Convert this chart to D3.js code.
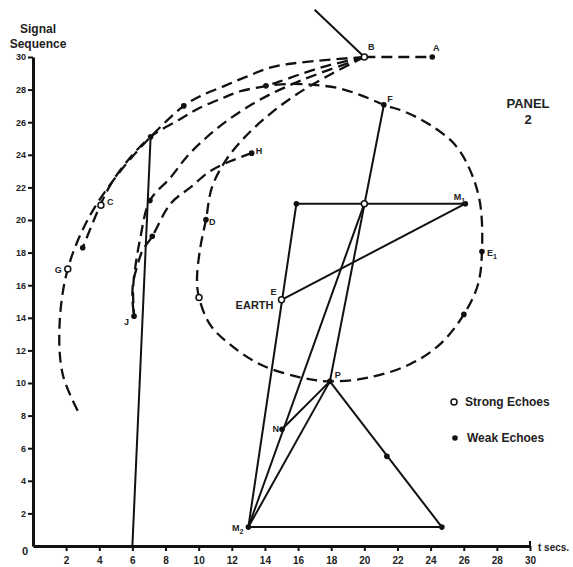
<html>
<head>
<script src="https://d3js.org/d3.v7.min.js"></script>
<style>
  body { margin: 0; background: #fff; }
  text { font-family: "Liberation Sans", Arial, sans-serif; font-weight: bold; fill: #222; }
</style>
</head>
<body>
<svg id="chart" width="573" height="567"></svg>
<script>
// ticks
const xTicks = [2, 4, 6, 8, 10, 12, 14, 16, 18, 20, 22, 24, 26, 28, 30];
const yTicks = [2, 4, 6, 8, 10, 12, 14, 16, 18, 20, 22, 24, 26, 28, 30];

// dashed tracks (t secs, signal sequence)
const trackBA = [[20, 30], [24.1, 30]];
const trackG = [[20, 30], [16.5, 29.7], [14.5, 29.4], [12.9, 28.8], [11.5, 28.2], [10.1, 27.6], [9.1, 27.0],
  [7.1, 25.1], [5.2, 22.9], [3.4, 20.2], [2.1, 17.0], [1.6, 13.5], [1.8, 10.5], [2.7, 8.3]];
const trackC = [[20, 30], [17.9, 29.5], [16.3, 29.0], [14.9, 28.5], [14.06, 28.23], [12.5, 27.9], [11.5, 27.5],
  [10.1, 26.9], [8.9, 26.2], [7.1, 25.1], [5.6, 23.5], [4.7, 22.2], [4.1, 21.0], [3.0, 18.3]];
const trackJ = [[20, 30], [18.95, 29.6], [17.3, 29.0], [15.8, 28.4], [14.3, 27.7], [12.9, 26.9], [11.6, 26.0],
  [10.4, 25.0], [9.3, 23.9], [8.3, 22.6], [7.06, 21.2], [6.46, 18.8], [6.16, 17.0], [6.04, 15.7], [6.1, 14.1]];
const trackH = [[13.2, 24.1], [11.9, 23.6], [10.7, 23.0], [9.5, 22.0], [8.3, 21.0], [7.2, 19.0], [6.6, 18.1],
  [6.3, 17.2], [6.05, 16.2], [6.0, 15.2], [6.1, 14.1]];
const trackLoop = [[20, 30], [17.9, 28.9], [15.9, 27.7], [14.3, 26.5], [12.8, 25.1], [11.6, 23.6], [10.8, 22.0],
  [10.44, 20.02], [10.08, 18.19], [9.9, 16.35], [10.02, 15.25],
  [10.68, 13.59], [11.89, 12.37], [13.7, 11.15], [16.11, 10.35], [17.92, 10.1], [20.34, 10.35], [22.75, 11.15],
  [24.56, 12.37], [26.01, 14.21], [26.86, 16.04], [27.1, 18.06], [26.98, 21.07], [26.37, 23.09], [25.47, 24.62],
  [23.96, 25.84], [22.45, 26.64], [21.18, 27.07], [19.73, 27.68], [18.35, 28.11], [16.9, 28.29], [15.51, 28.35], [14.06, 28.23]];

// solid lines
const solidLines = [
  [[7.1, 25.1], [6.0, 0]],
  [[20, 30], [17.0, 32.9]],
  [[15.9, 21.0], [26.1, 21.0]],
  [[15.0, 15.1], [26.1, 21.0]],
  [[15.9, 21.0], [13.0, 1.16]],
  [[13.0, 1.16], [20.0, 21.0]],
  [[21.18, 27.07], [17.92, 10.1]],
  [[17.92, 10.1], [15.03, 7.16]],
  [[17.92, 10.1], [13.0, 1.16]],
  [[17.92, 10.1], [24.68, 1.16]],
  [[13.0, 1.16], [24.68, 1.16]]
];

// echoes
const strongEchoes = [
  { x: 20.0, y: 30.0, name: "B" },
  { x: 4.1, y: 20.9, name: "C" },
  { x: 2.1, y: 17.0, name: "G" },
  { x: 10.02, y: 15.25, name: "" },
  { x: 15.0, y: 15.1, name: "E" },
  { x: 20.0, y: 21.0, name: "" }
];
const weakEchoes = [
  { x: 24.1, y: 30.0, name: "A" },
  { x: 9.1, y: 27.0, name: "" },
  { x: 7.1, y: 25.1, name: "" },
  { x: 14.06, y: 28.23, name: "" },
  { x: 3.0, y: 18.3, name: "" },
  { x: 6.1, y: 14.1, name: "J" },
  { x: 13.2, y: 24.1, name: "H" },
  { x: 7.06, y: 21.2, name: "" },
  { x: 7.2, y: 19.0, name: "" },
  { x: 10.44, y: 20.02, name: "D" },
  { x: 26.01, y: 14.21, name: "" },
  { x: 27.1, y: 18.06, name: "E1" },
  { x: 26.1, y: 21.0, name: "M1" },
  { x: 15.9, y: 21.0, name: "" },
  { x: 21.18, y: 27.07, name: "F" },
  { x: 17.92, y: 10.1, name: "P" },
  { x: 15.03, y: 7.16, name: "N" },
  { x: 13.0, y: 1.16, name: "M2" },
  { x: 24.68, y: 1.16, name: "" },
  { x: 21.36, y: 5.5, name: "" }
];

const svg = d3.select("#chart");
const x = d3.scaleLinear().domain([0, 30]).range([33, 530]);
const y = d3.scaleLinear().domain([0, 30]).range([546, 57]);

// axes
const gx = svg.append("g").attr("transform", "translate(0,546)")
  .call(d3.axisBottom(x).tickValues(xTicks).tickSize(5).tickSizeOuter(0).tickPadding(6));
const gy = svg.append("g").attr("transform", "translate(33,0)")
  .call(d3.axisLeft(y).tickValues(yTicks).tickSize(5).tickSizeOuter(0).tickPadding(2));
[gx, gy].forEach(function(g) {
  g.select(".domain").attr("stroke", "#111").attr("stroke-width", 3);
  g.selectAll(".tick line").attr("stroke", "#111").attr("stroke-width", 2);
  g.selectAll(".tick text").style("font-family", "Liberation Sans, Arial, sans-serif")
    .style("font-weight", "bold").attr("fill", "#222");
});
gx.selectAll(".tick text").style("font-size", "10px");
gy.selectAll(".tick text").style("font-size", "9px");
// end tick of x axis
svg.append("line").attr("x1", x(30)).attr("x2", x(30)).attr("y1", y(0)).attr("y2", y(0) - 5)
  .attr("stroke", "#111").attr("stroke-width", 2);

svg.append("text").attr("x", 25).attr("y", 555).attr("text-anchor", "middle")
  .style("font-size", "11px").text("0");
svg.append("text").attr("x", 538).attr("y", 551).style("font-size", "10px").text("t secs.");

svg.append("text").attr("x", 38).attr("y", 33).attr("text-anchor", "middle")
  .style("font-size", "12px").attr("fill", "#333").text("Signal");
svg.append("text").attr("x", 38).attr("y", 48).attr("text-anchor", "middle")
  .style("font-size", "12px").attr("fill", "#333").text("Sequence");

svg.append("text").attr("x", 528).attr("y", 108).attr("text-anchor", "middle")
  .style("font-size", "13px").attr("fill", "#333").text("PANEL");
svg.append("text").attr("x", 528).attr("y", 124).attr("text-anchor", "middle")
  .style("font-size", "13px").attr("fill", "#333").text("2");

// dashed tracks
const curve = d3.line().x(d => x(d[0])).y(d => y(d[1])).curve(d3.curveCatmullRom.alpha(0.5));
const straight = d3.line().x(d => x(d[0])).y(d => y(d[1]));
const tracks = [trackG, trackC, trackJ, trackH, trackLoop];
svg.append("g").selectAll("path").data(tracks).enter().append("path")
  .attr("d", curve).attr("fill", "none").attr("stroke", "#111")
  .attr("stroke-width", 2.3).attr("stroke-dasharray", "11,6");
svg.append("path").attr("d", straight(trackBA)).attr("fill", "none").attr("stroke", "#111")
  .attr("stroke-width", 2.3).attr("stroke-dasharray", "11,6");

// solid lines
svg.append("g").selectAll("line").data(solidLines).enter().append("line")
  .attr("x1", d => x(d[0][0])).attr("y1", d => y(d[0][1]))
  .attr("x2", d => x(d[1][0])).attr("y2", d => y(d[1][1]))
  .attr("stroke", "#111").attr("stroke-width", 2);

// echoes
svg.append("g").selectAll("circle").data(weakEchoes).enter().append("circle")
  .attr("cx", d => x(d.x)).attr("cy", d => y(d.y)).attr("r", 2.8).attr("fill", "#111");
svg.append("g").selectAll("circle").data(strongEchoes).enter().append("circle")
  .attr("cx", d => x(d.x)).attr("cy", d => y(d.y)).attr("r", 3).attr("fill", "#fff")
  .attr("stroke", "#111").attr("stroke-width", 1.5);

// point labels
const offsets = {
  A: [4, -6, "middle"], B: [7, -7, "middle"], F: [6, -3, "middle"], M1: [-6, -4, "middle"],
  E1: [5, 4, "start"], H: [4, 1, "start"], D: [3, 5, "start"], C: [6, 0, "start"],
  G: [-6, 4, "end"], J: [-5, 9, "end"], E: [-5, -5, "end"], P: [5, -3, "start"],
  N: [-3, 3, "end"], M2: [-5, 4, "end"]
};
const named = strongEchoes.concat(weakEchoes).filter(d => d.name !== "");
named.forEach(function(d) {
  const o = offsets[d.name];
  const t = svg.append("text").attr("x", x(d.x) + o[0]).attr("y", y(d.y) + o[1])
    .attr("text-anchor", o[2]).style("font-size", "9px");
  t.append("tspan").text(d.name[0]);
  if (d.name.length > 1) {
    t.append("tspan").attr("dy", 3).style("font-size", "7px").text(d.name.slice(1));
  }
});
svg.append("text").attr("x", x(15.0) - 8).attr("y", y(15.1) + 9).attr("text-anchor", "end")
  .style("font-size", "11px").attr("fill", "#333").text("EARTH");

// legend
svg.append("circle").attr("cx", 454).attr("cy", 402).attr("r", 3).attr("fill", "#fff")
  .attr("stroke", "#111").attr("stroke-width", 1.5);
svg.append("text").attr("x", 465).attr("y", 406).style("font-size", "12px").attr("fill", "#333").text("Strong Echoes");
svg.append("circle").attr("cx", 455).attr("cy", 438).attr("r", 2.8).attr("fill", "#111");
svg.append("text").attr("x", 467).attr("y", 442).style("font-size", "12px").attr("fill", "#333").text("Weak Echoes");
</script>
</body>
</html>
